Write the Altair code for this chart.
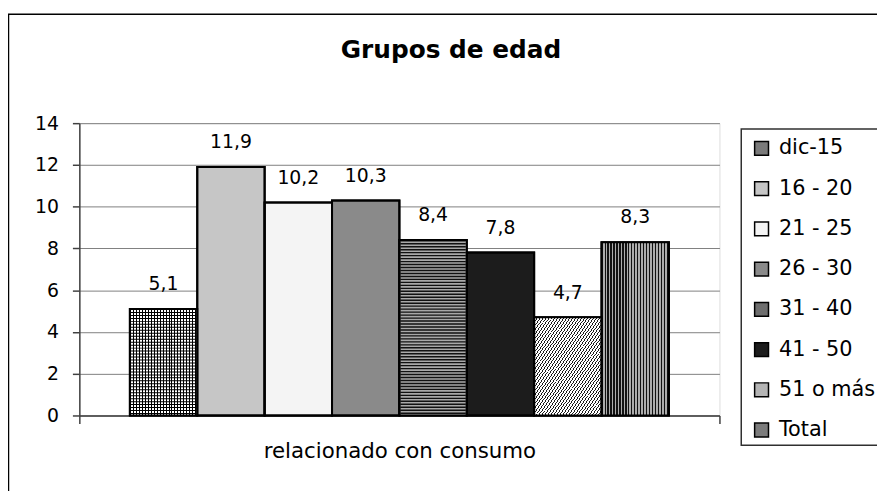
import altair as alt
import pandas as pd

# ---- data ----
groups = ["dic-15", "16 - 20", "21 - 25", "26 - 30", "31 - 40", "41 - 50", "51 o más", "Total"]
values = [5.1, 11.9, 10.2, 10.3, 8.4, 7.8, 4.7, 8.3]
category = "relacionado con consumo"
title_text = ["Grupos de edad"]
y_ticks = [0, 2, 4, 6, 8, 10, 12, 14]

# approximate mean tone of each Excel pattern fill (used for legend and base bars)
fills = ["#7a7a7a", "#c6c6c6", "#f4f4f4", "#8a8a8a", "#6e6e6e", "#1c1c1c", "#b4b4b4", "#7c7c7c"]

df = pd.DataFrame({
    "cat": [category] * len(groups),
    "grupo": groups,
    "valor": values,
    "etiqueta": [f"{v:.1f}".replace(".", ",") for v in values],
})

FONT = "DejaVu Sans"
PLOT_W, PLOT_H, Y_MAX = 646, 295, 14
BAR_W = 68
LUT = 256.0
CLEAR = "rgba(0,0,0,0)"


def stripe_stops(period_px, dark_px, dark, light, length=LUT):
    pts = []
    s = 0.0
    while s < length - 1e-9:
        e1 = min(s + dark_px, length)
        e2 = min(s + period_px, length)
        pts += [(s, dark), (e1, dark), (e1, light), (e2, light)]
        s += period_px
    return [{"offset": round(p / length, 6), "color": c} for p, c in pts]


def vstripes(period_px, dark_px, dark, light):
    # gradient parameter * 256 == x pixel inside the bar
    s = LUT / BAR_W
    return {"gradient": "linear", "x1": 0, "y1": 0, "x2": round(s, 6), "y2": 0,
            "stops": stripe_stops(period_px, dark_px, dark, light)}


def dstripes(period_px, dark_px, dark, light):
    # diagonal "/" stripes; gradient parameter * 256 == x + y*w/h pixels
    s = LUT / (2 * BAR_W)
    return {"gradient": "linear", "x1": 0, "y1": 0, "x2": round(s, 6), "y2": round(s, 6),
            "stops": stripe_stops(period_px, dark_px, dark, light)}


# pattern layers (style only), drawn over the base bars of a group
# ("fill", paint) -> bar filled with paint ; ("hlines", color, dash) -> horizontal lines
patterns = {
    "dic-15": [("fill", "#ffffff"), ("fill", vstripes(3, 1, "#000000", CLEAR)),
               ("hlines", "#000000", [1, 2])],
    "31 - 40": [("fill", "#a8a8a8"), ("hlines", "#111111", [1.4, 1.6])],
    "51 o más": [("fill", dstripes(3, 1.0, "#1a1a1a", "#ffffff"))],
    "Total": [("fill", vstripes(3, 1.2, "#111111", "#acacac"))],
}

x_enc = alt.X(
    "cat:N",
    title=None,
    scale=alt.Scale(paddingInner=0, paddingOuter=0),
    axis=alt.Axis(
        labelAngle=0, labelFontSize=21.5, labelPadding=17, labelColor="black", labelFont=FONT,
        labelLimit=600,
        tickBand="extent", tickSize=8, tickColor="#404040", tickWidth=1.5,
        domainColor="#404040", domainWidth=1.5,
    ),
)
xo_enc = alt.XOffset("grupo:N", sort=groups,
                     scale=alt.Scale(domain=groups, paddingOuter=0.75, paddingInner=0))
y_enc = alt.Y(
    "valor:Q",
    title=None,
    scale=alt.Scale(domain=[0, Y_MAX], nice=False),
    axis=alt.Axis(
        values=y_ticks, labelFontSize=19, labelPadding=14, labelColor="black", labelFont=FONT,
        tickSize=7, tickColor="#404040", tickWidth=1.5,
        domainColor="#404040", domainWidth=1.5,
        grid=True, gridColor="#808080", gridWidth=1,
    ),
)

base = alt.Chart(df)

bars = base.mark_bar(stroke="black", strokeWidth=2).encode(
    x=x_enc,
    xOffset=xo_enc,
    y=y_enc,
    color=alt.Color(
        "grupo:N",
        sort=groups,
        title=None,
        scale=alt.Scale(domain=groups, range=fills),
        legend=alt.Legend(
            orient="none", legendX=669, legendY=6,
            symbolType="square", symbolSize=196, symbolStrokeColor="black",
            symbolStrokeWidth=1.5, symbolOpacity=1,
            labelFontSize=21, labelFont=FONT, labelColor="black", labelOffset=7,
            rowPadding=18.6, padding=9,
        ),
    ),
)

overlays = []
for g, specs in patterns.items():
    sub = base.transform_filter(alt.datum.grupo == g)
    for spec in specs:
        if spec[0] == "fill":
            overlays.append(
                sub.mark_bar(fill=spec[1], strokeWidth=0).encode(x=x_enc, xOffset=xo_enc, y=y_enc)
            )
        else:
            overlays.append(
                sub.mark_rule(color=spec[1], strokeWidth=BAR_W - 2, strokeDash=spec[2], strokeCap="butt")
                .encode(x=x_enc, xOffset=xo_enc, y=y_enc, y2=alt.datum(0))
            )

borders = base.mark_bar(filled=False, stroke="black", strokeWidth=2).encode(
    x=x_enc, xOffset=xo_enc, y=y_enc
)

labels = base.mark_text(dy=-25, fontSize=19, font=FONT, color="black", baseline="middle").encode(
    x=x_enc, xOffset=xo_enc, y=y_enc, text="etiqueta:N"
)

title = alt.Chart(pd.DataFrame({"t": title_text})).mark_text(
    fontSize=25, fontWeight="bold", font=FONT, color="black", baseline="middle", align="center"
).encode(x=alt.value(375), y=alt.value(-74), text="t:N")

deco = pd.DataFrame({"k": [0]})
frame = alt.Chart(deco).mark_rect(filled=False, stroke="black", strokeWidth=1.5).encode(
    x=alt.value(-71.5), x2=alt.value(900), y=alt.value(-110), y2=alt.value(420)
)
legend_box = alt.Chart(deco).mark_rect(filled=False, stroke="#303030", strokeWidth=1.5).encode(
    x=alt.value(668), x2=alt.value(900), y=alt.value(6), y2=alt.value(325)
)

chart = alt.layer(frame, legend_box, bars, *overlays, borders, labels, title).properties(
    width=PLOT_W,
    height=PLOT_H,
    autosize=alt.AutoSizeParams(type="none"),
    padding={"left": 72, "top": 114, "right": 159, "bottom": 74},
).configure_view(
    stroke="#808080", strokeWidth=1.5
).configure(font=FONT)

chart.save("out.html", embed_options={"renderer": "svg", "actions": False})
